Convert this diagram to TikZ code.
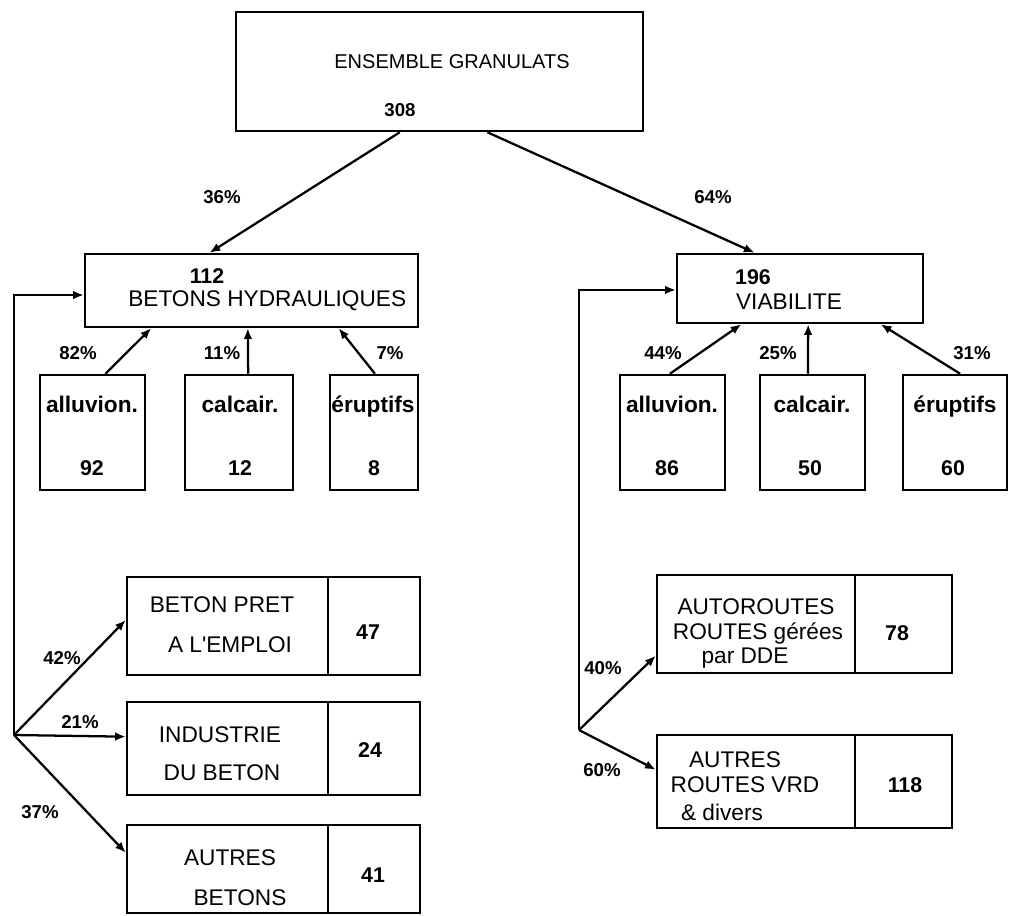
\documentclass[tikz,border=0pt]{standalone}
\usepackage{fontspec}
\setmainfont{Liberation Sans}
\usetikzlibrary{arrows.meta,fit,calc}
\begin{document}
\begin{tikzpicture}[x=0.75pt,y=-0.75pt,
  box/.style={draw,line width=1.9pt,inner sep=0pt},
  arr/.style={line width=1.7pt,-{Latex[length=8pt,width=6.5pt]}},
  ttl/.style={font=\fontsize{17}{21}\selectfont,inner sep=0pt},
  lab/.style={font=\fontsize{17}{21}\selectfont\bfseries,inner sep=0pt,anchor=base},
  num/.style={font=\fontsize{16}{19}\selectfont\bfseries,inner sep=0pt},
  bnum/.style={num,anchor=base},
  pct/.style={font=\fontsize{14}{17}\selectfont\bfseries,inner sep=0pt}]
\useasboundingbox[fill=white] (0,0) rectangle (1009,915);
% top
\node[box,fit={(236,12) (643,131)}] (top) {};
\node[ttl,font=\fontsize{15}{18}\selectfont] (ttop) at (452,62) {ENSEMBLE GRANULATS};
\node[pct] (n308) at (400,110) {308};
% level 2
\node[box,fit={(85,254) (418,327)}] (bh) {};
\node[num] (n112) at (207,276) {112};
\node[ttl,anchor=west] (tbh) at (128,301) {BETONS HYDRAULIQUES};
\node[box,fit={(677,254) (923,323)}] (vi) {};
\node[num] (n196) at (753,277) {196};
\node[ttl] (tvi) at (789,302) {VIABILITE};
% small boxes left
\node[box,fit={(40,375) (145,490)}] (la) {};
\node[lab] (tla) at (92,412) {alluvion.};
\node[bnum] (nla) at (92,475) {92};
\node[box,fit={(185,375) (293,490)}] (lc) {};
\node[lab] (tlc) at (240,412) {calcair.};
\node[bnum] (nlc) at (240,475) {12};
\node[box,fit={(330,375) (418,490)}] (le) {};
\node[lab] (tle) at (373,412) {éruptifs};
\node[bnum] (nle) at (374,475) {8};
% small boxes right
\node[box,fit={(620,375) (725,490)}] (ra) {};
\node[lab] (tra) at (672,412) {alluvion.};
\node[bnum] (nra) at (667,475) {86};
\node[box,fit={(760,375) (865,490)}] (rc) {};
\node[lab] (trc) at (812,412) {calcair.};
\node[bnum] (nrc) at (810,475) {50};
\node[box,fit={(903,375) (1007,490)}] (re) {};
\node[lab] (tre) at (955,412) {éruptifs};
\node[bnum] (nre) at (953,475) {60};
% bottom left
\node[box,fit={(127,577) (328,675)}] (bp) {};
\node[box,fit={(328,577) (420,675)}] (bpn) {};
\node[ttl] (tbp1) at (222,605) {BETON PRET};
\node[ttl] (tbp2) at (230,645) {A L\textquotesingle EMPLOI};
\node[num] (nbp) at (368,632) {47};
\node[box,fit={(127,702) (328,795)}] (ind) {};
\node[box,fit={(328,702) (420,795)}] (indn) {};
\node[ttl] (tind1) at (220,735) {INDUSTRIE};
\node[ttl] (tind2) at (222,773) {DU BETON};
\node[num] (nind) at (370,750) {24};
\node[box,fit={(127,825) (328,913)}] (ab) {};
\node[box,fit={(328,825) (420,913)}] (abn) {};
\node[ttl] (tab1) at (230,858) {AUTRES};
\node[ttl] (tab2) at (240,898) {BETONS};
\node[num] (nab) at (373,875) {41};
% bottom right
\node[box,fit={(657,575) (855,673)}] (au) {};
\node[box,fit={(855,575) (952,673)}] (aun) {};
\node[ttl] (tau1) at (756,607) {AUTOROUTES};
\node[ttl] (tau2) at (758,633) {ROUTES gérées};
\node[ttl] (tau3) at (745,658) {par DDE};
\node[num] (nau) at (897,633) {78};
\node[box,fit={(657,735) (855,828)}] (ar) {};
\node[box,fit={(855,735) (952,828)}] (arn) {};
\node[ttl] (tar1) at (735,760) {AUTRES};
\node[ttl] (tar2) at (745,785) {ROUTES VRD};
\node[ttl] (tar3) at (722,812) {\& divers};
\node[num] (nar) at (905,785) {118};
% percentages
\node[pct] (p36) at (222,197) {36\%};
\node[pct] (p64) at (713,197) {64\%};
\node[pct] (p82) at (78,353) {82\%};
\node[pct] (p11) at (222,353) {11\%};
\node[pct] (p7) at (390,353) {7\%};
\node[pct] (p44) at (663,353) {44\%};
\node[pct] (p25) at (778,353) {25\%};
\node[pct] (p31) at (972,353) {31\%};
\node[pct] (p42) at (62,658) {42\%};
\node[pct] (p21) at (80,722) {21\%};
\node[pct] (p37) at (40,812) {37\%};
\node[pct] (p40) at (603,668) {40\%};
\node[pct] (p60) at (602,770) {60\%};
% connectors
\draw[arr] ($(top.south west)!0.403!(top.south east)$) -- ($(bh.north west)!0.375!(bh.north east)$);
\draw[arr] ($(top.south west)!0.617!(top.south east)$) -- ($(vi.north west)!0.317!(vi.north east)$);
\draw[arr] ($(la.north west)!0.62!(la.north east)$) -- ($(bh.south west)!0.201!(bh.south east)$);
\draw[arr] ($(lc.north west)!0.583!(lc.north east)$) -- ($(bh.south west)!0.489!(bh.south east)$);
\draw[arr] ($(le.north west)!0.51!(le.north east)$) -- ($(bh.south west)!0.760!(bh.south east)$);
\draw[arr] ($(ra.north west)!0.476!(ra.north east)$) -- ($(vi.south west)!0.264!(vi.south east)$);
\draw[arr] ($(rc.north west)!0.457!(rc.north east)$) -- ($(vi.south west)!0.533!(vi.south east)$);
\draw[arr] ($(re.north west)!0.548!(re.north east)$) -- ($(vi.south west)!0.825!(vi.south east)$);
\coordinate (j1) at (14,735);
\draw[arr] (j1) |- ($(bh.north west)!0.56!(bh.south west)$);
\draw[arr] (j1) -- ($(bp.north west)!0.44!(bp.south west)$);
\draw[arr] (j1) -- ($(ind.north west)!0.376!(ind.south west)$);
\draw[arr] (j1) -- ($(ab.north west)!0.32!(ab.south west)$);
\coordinate (j2) at (579,730);
\draw[arr] (j2) |- ($(vi.north west)!0.52!(vi.south west)$);
\draw[arr] (j2) -- ($(au.north west)!0.816!(au.south west)$);
\draw[arr] (j2) -- ($(ar.north west)!0.376!(ar.south west)$);
\end{tikzpicture}
\end{document}
